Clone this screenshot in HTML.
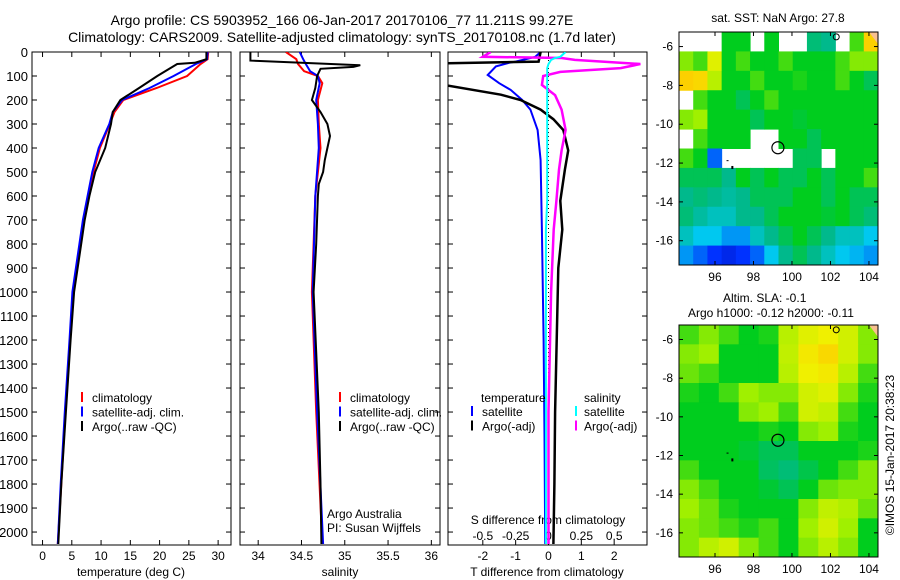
<!DOCTYPE html>
<html><head><meta charset="utf-8"><style>
body{margin:0;background:#fff}
svg{display:block;font-family:"Liberation Sans",sans-serif}
</style></head><body>
<svg id="fig" width="900" height="580" viewBox="0 0 900 580" xmlns="http://www.w3.org/2000/svg">
<text x="342" y="25" font-size="14" text-anchor="middle">Argo profile: CS 5903952_166 06-Jan-2017 20170106_77 11.211S 99.27E</text>
<text x="342" y="42" font-size="14" text-anchor="middle">Climatology: CARS2009. Satellite-adjusted climatology: synTS_20170108.nc (1.7d later)</text>
<g id="g"></g>
</svg>
<script>
// ---------- data ----------
const tDepth = [0,30,50,100,150,200,250,300,400,500,600,700,800,1000,1200,1500,1800,2050];
const tClim  = [28.3,28.2,27,24.7,19.5,13.8,12.3,11.5,9.8,8.7,7.8,7.0,6.4,5.2,4.7,3.9,3.2,2.6];
const tSat   = [28.2,28.1,26.2,22.4,18.3,13.6,12.0,11.4,9.6,8.5,7.7,6.9,6.3,5.1,4.6,3.8,3.1,2.6];
const tArgoDepth = [0,30,45,50,100,150,200,250,300,400,500,600,700,800,1000,1200,1500,1800,2050];
const tArgo  = [28.0,28.0,26,23.0,19.6,16.5,13.3,12.0,11.7,10.7,9.0,8.0,7.2,6.6,5.4,4.8,4.0,3.2,2.7];
const sDepth = [0,30,50,80,100,130,200,300,400,600,1000,1500,2050];
const sClim  = [34.32,34.44,34.46,34.53,34.69,34.74,34.69,34.7,34.72,34.66,34.62,34.67,34.74];
const sSat   = [34.48,34.52,34.55,34.6,34.69,34.71,34.67,34.69,34.7,34.66,34.63,34.68,34.75];
const sArgoDepth = [0,30,36,45,55,62,70,100,150,200,250,300,350,400,450,500,550,600,800,1000,1500,1800,2050];
const sArgo  = [33.91,33.91,33.91,34.5,35.18,35.1,34.72,34.68,34.66,34.62,34.72,34.8,34.83,34.8,34.77,34.75,34.7,34.69,34.67,34.64,34.7,34.72,34.73];
const dDepth = [0,20,40,45,60,96,130,158,200,240,325,450,740,1200,1600,2050];
const dTSat  = [-0.24,-0.4,-1.0,-1.2,-1.6,-1.85,-1.5,-1.15,-0.8,-0.55,-0.33,-0.24,-0.2,-0.15,-0.12,-0.1];
const dArgoDepth = [0,40,48,130,178,200,240,280,325,410,490,620,740,900,1200,1500,1800,2050];
const dTArgo = [-0.24,-0.3,-3.5,-3.5,-1.45,-0.85,-0.24,0.15,0.45,0.6,0.5,0.36,0.42,0.3,0.25,0.2,0.18,0.15];
const dSDepth = [0,20,25,33,50,67,83,100,137,180,240,325,410,490,620,740,1000,1500,2050];
const dSArgo  = [-0.44,-0.5,0.1,0.2,0.7,0.55,0.09,-0.04,-0.05,0.05,0.1,0.13,0.1,0.08,0.06,0.04,0.02,0.0,0.0];
const dSSat   = [0.13,0.09,0.05,0.02,0.0,-0.01,-0.01,-0.01,-0.01,-0.01,-0.01,-0.01,-0.01,-0.01,-0.01,-0.02,-0.02,-0.02,-0.02];
const depthTicks = [0,100,200,300,400,500,600,700,800,900,1000,1100,1200,1300,1400,1500,1600,1700,1800,1900,2000];
const tTicks = [0,5,10,15,20,25,30];
const sTicks = [34,34.5,35,35.5,36];
const dTTicks = [-2,-1,0,1,2];
const dSTicks = [-0.5,-0.25,0,0.25,0.5];
const lonTicks = [96,98,100,102,104];
const latTicks = [-6,-8,-10,-12,-14,-16];
const N=null;
const sstGrid = [
[N,N,N,.5,.5,N,.5,N,N,.42,.4,N,.55,.8],
[.6,.55,.7,.5,.55,.5,.5,.55,.5,.5,.5,.55,.6,.6],
[.8,.78,.65,.5,.5,.55,.5,.5,.52,.5,.5,.55,.5,.45],
[N,.55,.5,.5,.45,.5,.55,.5,.5,.5,.5,.5,.5,.5],
[.6,.62,.5,.5,.5,.45,.5,.5,.48,.5,.5,.5,.5,.5],
[N,.55,.5,.5,.5,N,N,.5,.5,.45,.5,.5,.5,.5],
[.55,.5,.2,N,N,N,N,N,.45,.45,N,.5,.5,.5],
[.45,.45,.45,.4,.5,.45,.5,.45,.45,.5,.45,.5,.5,.55],
[.4,.42,.4,.38,.4,.45,.45,.45,.5,.5,.45,.5,.45,.45],
[.42,.38,.35,.35,.4,.4,.45,.5,.5,.5,.48,.5,.45,.42],
[.35,.3,.3,.25,.25,.35,.4,.45,.5,.45,.4,.35,.35,.3],
[.25,.2,.15,.12,.15,.2,.3,.4,.45,.4,.35,.3,.28,.25]];
const slaGrid = [
[.55,.6,.55,.5,.52,.65,.7,.72,.68,.6],
[.6,.62,.5,.5,.5,.66,.74,.78,.68,.6],
[.58,.55,.5,.5,.5,.65,.72,.74,.65,.55],
[.52,.5,.55,.62,.6,.6,.68,.7,.6,.52],
[.5,.5,.5,.6,.62,.55,.68,.66,.55,.5],
[.5,.5,.5,.5,.52,.5,.6,.62,.52,.5],
[.5,.5,.5,.48,.45,.45,.5,.5,.5,.52],
[.55,.5,.5,.5,.44,.42,.46,.5,.55,.6],
[.6,.55,.5,.5,.48,.45,.5,.58,.6,.6],
[.62,.58,.52,.5,.5,.5,.6,.66,.64,.58],
[.6,.58,.55,.52,.55,.5,.62,.68,.62,.5],
[.6,.65,.68,.6,.55,.5,.6,.65,.6,.5]];
const argoLon = 99.27, argoLat = -11.21;

// ---------- helpers ----------
const NS="http://www.w3.org/2000/svg";
const G=document.getElementById('g');
function mk(tag,attrs,parent){const e=document.createElementNS(NS,tag);for(const k in attrs)e.setAttribute(k,attrs[k]);(parent||G).appendChild(e);return e;}
function txt(s,x,y,size,anchor,parent){const e=mk('text',{x:x,y:y,'font-size':size,'text-anchor':anchor||'start'},parent);e.textContent=s;return e;}
const PT=52,PB=545,D0=0,D1=2054;
const yD=d=>PT+(d-D0)/(D1-D0)*(PB-PT);
function panel(x0,x1,v0,v1,name){
  const xs=v=>x0+(v-v0)/(v1-v0)*(x1-x0);
  const r=mk('rect',{x:x0,y:PT,width:x1-x0,height:PB-PT,fill:'none',stroke:'#000','stroke-width':1});
  
  
  const clip=mk('clipPath',{id:'c'+name});mk('rect',{x:x0,y:PT,width:x1-x0,height:PB-PT},clip);
  depthTicks.forEach(d=>{mk('line',{x1:x0,x2:x0+5,y1:yD(d),y2:yD(d),stroke:'#000'});mk('line',{x1:x1,x2:x1-5,y1:yD(d),y2:yD(d),stroke:'#000'});});
  return xs;
}
function line(xs,vals,depths,color,w,clipName,nm){
  const pts=vals.map((v,i)=>xs(v).toFixed(1)+','+yD(depths[i]).toFixed(1)).join(' ');
  const p=mk('polyline',{points:pts,fill:'none',stroke:color,'stroke-width':w,'clip-path':'url(#c'+clipName+')'});
  
  
}
depthTicks.forEach(d=>{const t=txt(String(d),28,yD(d)+5,13,'end');

});

// panel 1: temperature
const x1=panel(32,231,-1.8,32.2,'temperature-panel');
tTicks.forEach(v=>{mk('line',{x1:x1(v),x2:x1(v),y1:PB,y2:PB-5,stroke:'#000'});mk('line',{x1:x1(v),x2:x1(v),y1:PT,y2:PT+5,stroke:'#000'});txt(String(v),x1(v),560,12,'middle');});
txt('temperature (deg C)',131,576,12,'middle');
line(x1,tClim,tDepth,'#f00',2,'temperature-panel','temp-climatology-line');
line(x1,tSat,tDepth,'#00f',2,'temperature-panel','temp-satellite-line');
line(x1,tArgo,tArgoDepth,'#000',2,'temperature-panel','temp-argo-line');
function legend(x,y,items){items.forEach((it,i)=>{mk('line',{x1:x,x2:x,y1:y+i*14.5-10,y2:y+i*14.5,stroke:it[1],'stroke-width':2});const t=txt(it[0],x+10,y+i*14.5,12);

});}
legend(82,402,[['climatology','#f00'],['satellite-adj. clim.','#00f'],['Argo(..raw -QC)','#000']]);

// panel 2: salinity
const x2=panel(240,440,33.79,36.1,'salinity-panel');
sTicks.forEach(v=>{mk('line',{x1:x2(v),x2:x2(v),y1:PB,y2:PB-5,stroke:'#000'});mk('line',{x1:x2(v),x2:x2(v),y1:PT,y2:PT+5,stroke:'#000'});txt(String(v),x2(v),560,12,'middle');});
txt('salinity',340,576,12,'middle');
line(x2,sClim,sDepth,'#f00',2,'salinity-panel','sal-climatology-line');
line(x2,sSat,sDepth,'#00f',2,'salinity-panel','sal-satellite-line');
line(x2,sArgo,sArgoDepth,'#000',2,'salinity-panel','sal-argo-line');
legend(340,402,[['climatology','#f00'],['satellite-adj. clim.','#00f'],['Argo(..raw -QC)','#000']]);
txt('Argo Australia',327,518,12);txt('PI: Susan Wijffels',327,532,12);

// panel 3: differences
const x3=panel(448,647,-3.06,3.0,'difference-panel');
const x3s=v=>x3(v*4);
dTTicks.forEach(v=>{mk('line',{x1:x3(v),x2:x3(v),y1:PB,y2:PB-5,stroke:'#000'});mk('line',{x1:x3(v),x2:x3(v),y1:PT,y2:PT+5,stroke:'#000'});txt(String(v),x3(v),560,12,'middle');});
dSTicks.forEach(v=>{txt(String(v),x3s(v),540,12,'middle');});
txt('S difference from climatology',548,524,12,'middle');
txt('T difference from climatology',547,576,12,'middle');
mk('line',{x1:x3(0),x2:x3(0),y1:PT,y2:PB,stroke:'#000','stroke-dasharray':'1,3'});
line(x3,dTSat,dDepth,'#00f',2,'difference-panel','tdiff-satellite-line');
line(x3,dTArgo,dArgoDepth,'#000',2.5,'difference-panel','tdiff-argo-line');
line(x3s,dSArgo,dSDepth,'#f0f',2.5,'difference-panel','sdiff-argo-line');
line(x3s,dSSat,dSDepth,'#0ff',2,'difference-panel','sdiff-satellite-line');
txt('temperature',481,402,12);txt('salinity',584,402,12);
[['satellite','#00f',472],['Argo(-adj)','#000',472]].forEach((it,i)=>{mk('line',{x1:it[2],x2:it[2],y1:406+i*14.5,y2:416+i*14.5,stroke:it[1],'stroke-width':2});txt(it[0],482,416+i*14.5,12);});
[['satellite','#0ff',576],['Argo(-adj)','#f0f',576]].forEach((it,i)=>{mk('line',{x1:it[2],x2:it[2],y1:406+i*14.5,y2:416+i*14.5,stroke:it[1],'stroke-width':2});txt(it[0],584,416+i*14.5,12);});

// ---------- maps ----------
const stops=[[0,[0,0,150]],[0.15,[0,50,255]],[0.3,[0,200,240]],[0.4,[0,185,140]],[0.5,[0,205,30]],[0.62,[160,240,0]],[0.72,[240,240,0]],[0.82,[255,200,0]],[0.92,[255,130,0]]];
function cmap(v){for(let i=1;i<stops.length;i++){if(v<=stops[i][0]){const a=stops[i-1],b=stops[i],t=(v-a[0])/(b[0]-a[0]);return 'rgb('+a[1].map((c,k)=>Math.round(c+(b[1][k]-c)*t)).join(',')+')';}}return 'rgb(255,130,0)';}
function map(y0,y1,grid,name){
  const X0=679,X1=878,L0=94.13,L1=104.47,A0=-5.25,A1=-17.25;
  const lx=l=>X0+(l-L0)/(L1-L0)*(X1-X0), ly=a=>y0+(a-A0)/(A1-A0)*(y1-y0);
  const g=mk('g',{});
  
  
  const rows=grid.length,cols=grid[0].length,cw=(X1-X0)/cols,ch=(y1-y0)/rows;
  grid.forEach((row,r)=>row.forEach((v,c)=>{if(v===null)return;
    const cell=mk('rect',{x:X0+c*cw,y:y0+r*ch,width:cw+0.5,height:ch+0.5,fill:cmap(v)},g);
    
    }));
  mk('polygon',{points:(X1-9)+','+y0+' '+X1+','+y0+' '+X1+','+(y0+12),fill:'#f8c090'},g);
  mk('circle',{cx:lx(102.3),cy:ly(-5.5),r:3,fill:'none',stroke:'#000'},g);
  const mk1=mk('circle',{cx:lx(argoLon),cy:ly(argoLat),r:6,fill:'none',stroke:'#000','stroke-width':1.2},g);
  
  
  mk('rect',{x:lx(96.6),y:ly(-11.85),width:2,height:1,fill:'#000'},g);
  mk('rect',{x:lx(96.85),y:ly(-12.15),width:2,height:3,fill:'#000'},g);
  mk('rect',{x:X0,y:y0,width:X1-X0,height:y1-y0,fill:'none',stroke:'#000'},g);
  lonTicks.forEach(l=>{mk('line',{x1:lx(l),x2:lx(l),y1:y1,y2:y1-4,stroke:'#000'},g);mk('line',{x1:lx(l),x2:lx(l),y1:y0,y2:y0+4,stroke:'#000'},g);txt(String(l),lx(l),y1+16,12,'middle',g);});
  latTicks.forEach(a=>{mk('line',{x1:X0,x2:X0+4,y1:ly(a),y2:ly(a),stroke:'#000'},g);mk('line',{x1:X1,x2:X1-4,y1:ly(a),y2:ly(a),stroke:'#000'},g);txt(String(a),X0-6,ly(a)+4,12,'end',g);});
}
map(32,265,sstGrid,'sst-map');
map(325,557,slaGrid,'sla-map');
txt('sat. SST: NaN Argo: 27.8',778,22,12,'middle');
txt('Altim. SLA: -0.1',723,302,12);
txt('Argo h1000: -0.12 h2000: -0.11',688,317,12);
const cp=txt('©IMOS 15-Jan-2017 20:38:23',0,0,12,'middle');
cp.setAttribute('transform','translate(894,455) rotate(-90)');


</script>
</body></html>
